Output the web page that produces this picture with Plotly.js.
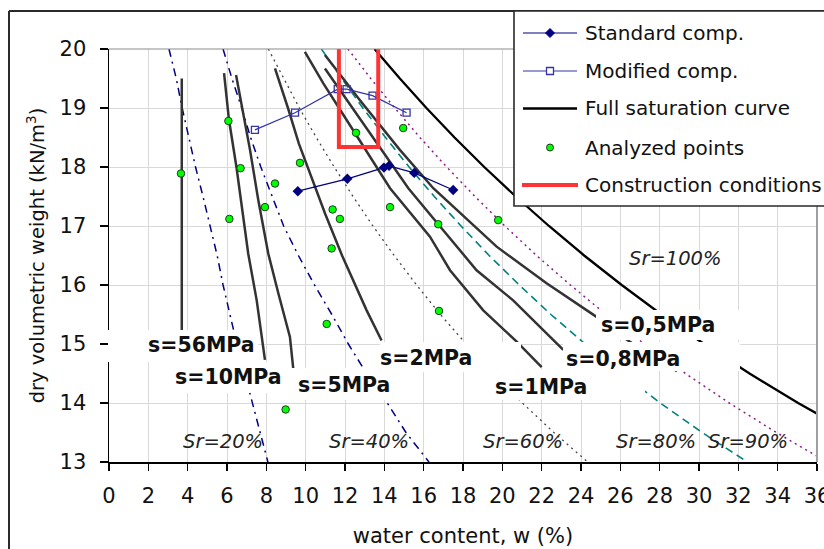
<!DOCTYPE html>
<html>
<head>
<meta charset="utf-8">
<script src="https://cdn.plot.ly/plotly-3.0.1.min.js"></script>
<style>
html,body{margin:0;padding:0;background:#fff;}
#chart{width:824px;height:549px;}
</style>
</head>
<body>
<div id="chart"></div>
<script>
// ---------- data ----------
// dry volumetric weight levels used for the saturation (Sr) curves
const srGamma   = [20, 19.5, 19, 18.5, 18, 17.5, 17, 16.5, 16, 15.5, 15, 14.5, 14, 13.5, 13];
const sr20W     = [3.05, 3.42, 3.72, 4.05, 4.40, 4.78, 5.15, 5.50, 5.80, 6.15, 6.50, 6.90, 7.30, 7.67, 8.08];
const sr40W     = [5.80, 6.25, 6.75, 7.20, 7.72, 8.30, 8.88, 9.63, 10.45, 11.33, 12.17, 13.10, 14.15, 15.10, 16.27];
const sr60W     = [8.10, 8.87, 9.68, 10.54, 11.45, 12.41, 13.42, 14.50, 15.64, 16.85, 18.16, 19.54, 21.02, 22.62, 24.34];
const sr80W     = [10.80, 11.83, 12.91, 14.06, 15.26, 16.54, 17.90, 19.33, 20.86, 22.47, 24.21, 26.06, 28.03, 30.16, 32.46];
const sr90W     = [12.15, 13.31, 14.53, 15.81, 17.17, 18.61, 20.13, 21.74, 23.46, 25.28, 27.23, 29.31, 31.54, 33.93, 36.51];
const fullSatGamma = [20, 19.5, 19, 18.5, 18, 17.5, 17, 16.5, 16, 15.5, 15, 14.5, 14, 13.5];
const fullSatW     = [13.50, 14.79, 16.14, 17.57, 19.08, 20.68, 22.37, 24.16, 26.07, 28.09, 30.26, 32.57, 35.04, 37.70];

// suction curves
const s56W = [3.70, 3.70, 3.70, 3.70];
const s56G = [19.5, 18.0, 16.5, 15.0];
const s10W = [5.85, 6.10, 6.48, 7.08, 7.51, 7.93];
const s10G = [19.59, 18.80, 18.00, 16.53, 15.74, 14.73];
const s5W  = [6.46, 7.17, 7.59, 8.10, 8.61, 9.20, 9.37];
const s5G  = [19.56, 18.29, 17.44, 16.53, 15.86, 15.12, 14.58];
const s2W  = [8.44, 9.10, 9.65, 10.10, 11.00, 11.85, 12.50, 13.10, 13.86];
const s2G  = [19.67, 19.00, 18.40, 18.00, 17.20, 16.50, 16.00, 15.57, 15.06];
const s1W  = [9.96, 10.89, 12.65, 14.29, 16.32, 17.34, 19.03, 20.73, 22.00];
const s1G  = [19.95, 19.42, 18.50, 17.64, 16.82, 16.25, 15.57, 15.04, 14.61];
const s08W = [10.98, 13.10, 15.22, 16.74, 18.69, 20.55, 23.10];
const s08G = [19.67, 18.65, 17.64, 17.03, 16.25, 15.74, 14.90];
const s05W = [10.98, 12.76, 14.79, 16.49, 19.71, 22.25, 24.79, 26.39, 28.88];
const s05G = [19.90, 19.13, 18.29, 17.64, 16.65, 16.03, 15.46, 15.06, 14.54];

// compaction curves
const stdW = [9.60, 12.12, 13.98, 14.24, 15.52, 17.50];
const stdG = [17.59, 17.80, 17.99, 18.02, 17.90, 17.61];
const modW = [7.42, 9.46, 11.63, 12.08, 13.40, 15.13];
const modG = [18.63, 18.92, 19.32, 19.32, 19.21, 18.92];

// analyzed points
const ptsW = [3.66, 6.07, 6.12, 6.69, 7.93, 8.44, 9.71, 11.37, 11.74, 11.32, 12.56, 14.29, 14.96, 16.74, 19.79, 11.07, 8.98, 16.78];
const ptsG = [17.89, 18.78, 17.12, 17.98, 17.32, 17.72, 18.07, 17.28, 17.12, 16.62, 18.58, 17.32, 18.66, 17.03, 17.10, 15.34, 13.89, 15.56];

// construction conditions (open box)
const consW = [11.69, 11.69, 13.69, 13.69];
const consG = [20.10, 18.34, 18.34, 20.10];

// labels
const sLabels  = ['s=56MPa', 's=10MPa', 's=5MPa', 's=2MPa', 's=1MPa', 's=0,8MPa', 's=0,5MPa'];
const sLabelW  = [4.70, 6.10, 11.94, 16.13, 21.95, 26.15, 27.89];
const sLabelG  = [14.98, 14.44, 14.30, 14.76, 14.27, 14.75, 15.32];
const srLabels = ['Sr=20%', 'Sr=40%', 'Sr=60%', 'Sr=80%', 'Sr=90%', 'Sr=100%'];
const srLabelW = [5.81, 13.23, 21.06, 27.80, 32.50, 28.77];
const srLabelG = [13.34, 13.34, 13.34, 13.34, 13.34, 16.45];

const legendNames = ['Standard comp.', 'Modified comp.', 'Full saturation curve', 'Analyzed points', 'Construction conditions'];

// ---------- styling / layout ----------
const FONT = 'DejaVu Sans, Arial, sans-serif';
const L = 109, T = 49, R = 817, B = 462;
const PW = R - L, PH = B - T;
const px = v => (v - L) / PW;   // pixel x -> paper
const py = v => (B - v) / PH;   // pixel y -> paper

const NAVY = '#000080';
const MODC = '#3535a8';
const SCOL = '#333333';

function line(x, y, color, width, dash, name) {
  return {x: x, y: y, type: 'scatter', mode: 'lines', name: name || '',
    line: {color: color, width: width, dash: dash || 'solid'}, hoverinfo: 'skip', showlegend: false};
}

const traces = [
  line(sr20W, srGamma, NAVY, 1.5, '8px,5px,2px,5px'),
  line(sr40W, srGamma, NAVY, 1.5, '8px,5px,2px,5px'),
  line(sr60W, srGamma, '#444', 1.3, '2px,4px'),
  line(sr80W, srGamma, '#008080', 1.6, '8px,5px'),
  line(sr90W, srGamma, '#8a1a8a', 1.5, '2px,4px'),
  line(s56W, s56G, SCOL, 2.5),
  line(s10W, s10G, SCOL, 2.5),
  line(s5W, s5G, SCOL, 2.5),
  line(s2W, s2G, SCOL, 2.5),
  line(s1W, s1G, SCOL, 2.5),
  line(s08W, s08G, SCOL, 2.5),
  line(s05W, s05G, SCOL, 2.5),
  line(fullSatW, fullSatGamma, '#000', 2.3, 'solid', legendNames[2]),
  {x: stdW, y: stdG, type: 'scatter', mode: 'lines+markers', name: legendNames[0], showlegend: false, hoverinfo: 'skip',
   line: {color: NAVY, width: 1.2}, marker: {symbol: 'diamond', size: 8, color: NAVY}},
  {x: modW, y: modG, type: 'scatter', mode: 'lines+markers', name: legendNames[1], showlegend: false, hoverinfo: 'skip',
   line: {color: MODC, width: 1.2}, marker: {symbol: 'square-open', size: 7, color: MODC, line: {width: 1.3, color: MODC}}},
  {x: ptsW, y: ptsG, type: 'scatter', mode: 'markers', name: legendNames[3], showlegend: false, hoverinfo: 'skip',
   marker: {symbol: 'circle', size: 7.5, color: '#00ff00', line: {width: 1, color: '#1d3d1d'}}},
  line(consW, consG, '#ff3333', 4, 'solid', legendNames[4])
];

// white label backgrounds (pixel rectangles)
const boxes = [
  [108, 330, 258, 362],
  [170, 362, 288, 393],
  [292, 368, 396, 400],
  [380, 342, 521, 372],
  [488, 369, 645, 400],
  [563, 342, 740, 371],
  [596, 310, 740, 340]
];

const shapes = [];
boxes.forEach(b => shapes.push({type: 'rect', xref: 'paper', yref: 'paper', layer: 'above',
  x0: px(b[0]), x1: px(b[2]), y0: py(b[3]), y1: py(b[1]), fillcolor: '#fff', line: {width: 0}}));

// plot-area top / right border (grey)
shapes.push({type: 'line', xref: 'paper', yref: 'paper', layer: 'above', x0: 0, x1: 1, y0: 1, y1: 1, line: {color: '#8c8c8c', width: 1.2}});
shapes.push({type: 'line', xref: 'paper', yref: 'paper', layer: 'above', x0: 1, x1: 1, y0: 0, y1: 1, line: {color: '#a0a0a0', width: 2}});

// outer chart frame (top and left visible)
shapes.push({type: 'line', xref: 'paper', yref: 'paper', layer: 'above', x0: px(9), x1: px(840), y0: py(11), y1: py(11), line: {color: '#2a2a2a', width: 2}});
shapes.push({type: 'line', xref: 'paper', yref: 'paper', layer: 'above', x0: px(9), x1: px(9), y0: py(11), y1: py(570), line: {color: '#2a2a2a', width: 2}});

// legend box
shapes.push({type: 'rect', xref: 'paper', yref: 'paper', layer: 'above', x0: px(514), x1: px(840), y0: py(206), y1: py(11),
  fillcolor: '#fff', line: {color: '#2a2a2a', width: 1.6}});
const legY = [33, 71, 108.5, 147.5, 185];
// legend symbols
shapes.push({type: 'line', xref: 'paper', yref: 'paper', layer: 'above', x0: px(523), x1: px(577), y0: py(legY[0]), y1: py(legY[0]), line: {color: NAVY, width: 1.2}});
shapes.push({type: 'path', xref: 'paper', yref: 'paper', layer: 'above', fillcolor: NAVY, line: {color: NAVY, width: 1},
  path: `M${px(550)},${py(legY[0]-4.5)} L${px(554.5)},${py(legY[0])} L${px(550)},${py(legY[0]+4.5)} L${px(545.5)},${py(legY[0])} Z`});
shapes.push({type: 'line', xref: 'paper', yref: 'paper', layer: 'above', x0: px(523), x1: px(577), y0: py(legY[1]), y1: py(legY[1]), line: {color: MODC, width: 1.2}});
shapes.push({type: 'rect', xref: 'paper', yref: 'paper', layer: 'above', x0: px(546.5), x1: px(553.5), y0: py(legY[1]+3.5), y1: py(legY[1]-3.5), fillcolor: '#fff', line: {color: MODC, width: 1.3}});
shapes.push({type: 'line', xref: 'paper', yref: 'paper', layer: 'above', x0: px(523), x1: px(577), y0: py(legY[2]), y1: py(legY[2]), line: {color: '#000', width: 2.3}});
shapes.push({type: 'circle', xref: 'paper', yref: 'paper', layer: 'above', x0: px(546.5), x1: px(553.5), y0: py(legY[3]+3.5), y1: py(legY[3]-3.5), fillcolor: '#00ff00', line: {color: '#1d3d1d', width: 1}});
shapes.push({type: 'line', xref: 'paper', yref: 'paper', layer: 'above', x0: px(522), x1: px(578), y0: py(legY[4]), y1: py(legY[4]), line: {color: '#ff3333', width: 4}});

const annotations = [];
sLabels.forEach((t, i) => annotations.push({x: sLabelW[i], y: sLabelG[i], xref: 'x', yref: 'y', text: t, showarrow: false,
  xanchor: 'center', yanchor: 'middle', font: {family: FONT, size: 20.5, color: '#111', weight: 'bold'}}));
srLabels.forEach((t, i) => annotations.push({x: srLabelW[i], y: srLabelG[i], xref: 'x', yref: 'y', text: t, showarrow: false,
  xanchor: 'center', yanchor: 'middle', font: {family: FONT, size: 19.5, color: '#222', style: 'italic'}}));
legendNames.forEach((t, i) => annotations.push({x: px(583), y: py(legY[i]), xref: 'paper', yref: 'paper', text: t, showarrow: false,
  xanchor: 'left', yanchor: 'middle', font: {family: FONT, size: 20, color: '#111'}}));

const layout = {
  width: 824, height: 549,
  margin: {l: L, r: 824 - R, t: T, b: 549 - B, pad: 0},
  paper_bgcolor: '#fff', plot_bgcolor: '#fff',
  showlegend: false,
  font: {family: FONT, color: '#111'},
  xaxis: {range: [0, 36], dtick: 2, tick0: 0, showgrid: true, gridcolor: '#d9d9d9', gridwidth: 1,
    showline: true, linecolor: '#000', linewidth: 1.5, ticks: 'outside', ticklen: 7, tickwidth: 1.5, tickcolor: '#000',
    zeroline: false, automargin: false, ticklabelstandoff: 7, ticklabeloverflow: 'allow',
    tickfont: {family: FONT, size: 21, color: '#111'},
    title: {text: 'water content, w (%)', font: {family: FONT, size: 21, color: '#111'}, standoff: 21}},
  yaxis: {range: [13, 20], dtick: 1, tick0: 13, showgrid: true, gridcolor: '#d9d9d9', gridwidth: 1,
    showline: true, linecolor: '#000', linewidth: 1.5, ticks: 'outside', ticklen: 8, tickwidth: 1.5, tickcolor: '#000',
    zeroline: false, automargin: false, ticklabelstandoff: 9, ticklabeloverflow: 'allow',
    tickfont: {family: FONT, size: 21, color: '#111'},
    title: {text: 'dry volumetric weight (kN/m<sup>3</sup>)', font: {family: FONT, size: 19.5, color: '#111'}, standoff: 9}},
  shapes: shapes,
  annotations: annotations,
  hovermode: false
};

Plotly.newPlot('chart', traces, layout, {displayModeBar: false, staticPlot: true});
</script>
</body>
</html>
